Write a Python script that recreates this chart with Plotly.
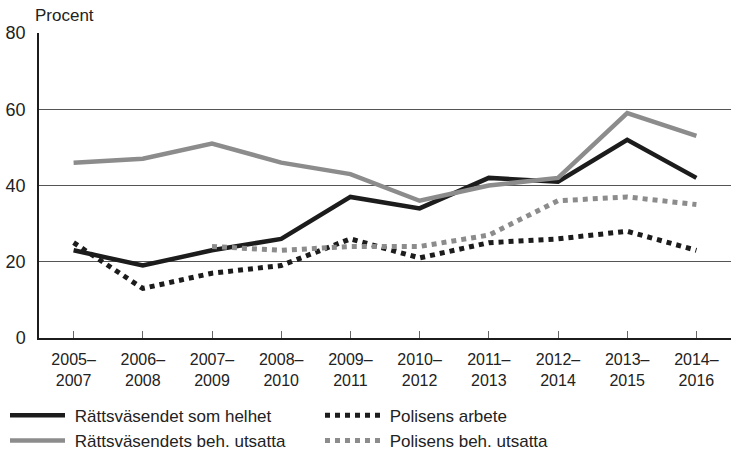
import plotly.graph_objects as go

periods = ["2005–2007", "2006–2008", "2007–2009", "2008–2010", "2009–2011",
           "2010–2012", "2011–2013", "2012–2014", "2013–2015", "2014–2016"]
tick_labels = [p.replace("–", "–<br>") for p in periods]

helhet = [23, 19, 23, 26, 37, 34, 42, 41, 52, 42]
helhet_utsatta = [46, 47, 51, 46, 43, 36, 40, 42, 59, 53]
polis = [25, 13, 17, 19, 26, 21, 25, 26, 28, 23]
polis_utsatta = [None, None, 24, 23, 24, 24, 27, 36, 37, 35]

y_ticks = [0, 20, 40, 60, 80]

BLACK = "#1c1c1c"
GRAY = "#8c8c8c"
FONT = "Liberation Sans, Arial, sans-serif"
NB = "\u00a0"

fig = go.Figure()
fig.add_trace(go.Scatter(x=periods, y=helhet, mode="lines",
                         name=NB + "Rättsväsendet som helhet",
                         line=dict(color=BLACK, width=4.5)))
fig.add_trace(go.Scatter(x=periods, y=polis, mode="lines",
                         name=NB + "Polisens arbete",
                         line=dict(color=BLACK, width=5, dash="5px,5px")))
fig.add_trace(go.Scatter(x=periods, y=helhet_utsatta, mode="lines",
                         name=NB + "Rättsväsendets beh. utsatta",
                         line=dict(color=GRAY, width=4.5)))
fig.add_trace(go.Scatter(x=periods, y=polis_utsatta, mode="lines",
                         name=NB + "Polisens beh. utsatta",
                         line=dict(color=GRAY, width=5, dash="5px,5px")))

fig.update_layout(
    width=731, height=452,
    margin=dict(l=39, r=0, t=33, b=114, autoexpand=False),
    paper_bgcolor="white", plot_bgcolor="white",
    font=dict(family=FONT, color="#222", size=16),
    xaxis=dict(
        type="category", range=[-0.5, 9.5], automargin=False,
        tickvals=periods, ticktext=tick_labels,
        showgrid=False, showline=True, linecolor=BLACK, linewidth=1.5,
        ticks="inside", ticklen=7, tickcolor="#666", tickwidth=1,
        tickfont=dict(family=FONT, size=16, color="#222"),
        ticklabelstandoff=6,
        zeroline=False,
    ),
    yaxis=dict(
        range=[0, 80], tickvals=y_ticks, automargin=False,
        showgrid=True, gridcolor="#555", gridwidth=1,
        showline=True, linecolor=BLACK, linewidth=1.5,
        ticks="", zeroline=False,
        tickfont=dict(family=FONT, size=18, color="#222"),
        ticklabelstandoff=8,
    ),
    legend=dict(
        orientation="h", x=5 / 731, xref="container", xanchor="left",
        y=0.12, yref="container", yanchor="top",
        font=dict(family=FONT, size=17, color="#222"),
        itemwidth=55, entrywidth=245, entrywidthmode="pixels",
        bgcolor="rgba(0,0,0,0)",
    ),
    annotations=[dict(
        text="Procent", xref="paper", yref="paper", x=0, y=1,
        xanchor="left", yanchor="bottom", xshift=-6, yshift=6, showarrow=False,
        font=dict(family=FONT, size=17, color="#222"),
    )],
)

fig.write_html("out.html", config={"displayModeBar": False},
               post_script="document.body.style.margin='0';")
